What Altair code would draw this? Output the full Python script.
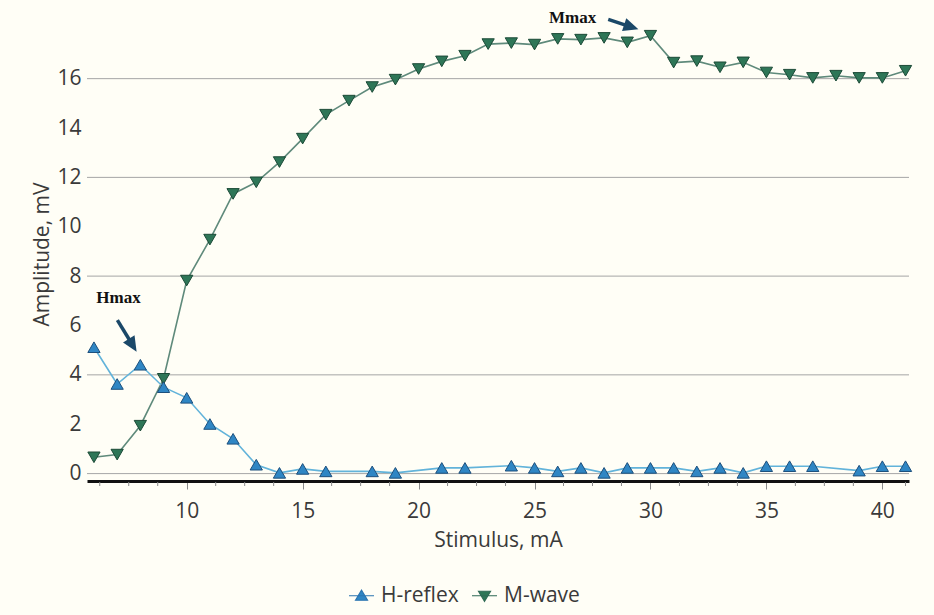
import altair as alt
import pandas as pd

# Stimulus intensities (mA) and response amplitudes (mV)
stim_h = [6, 7, 8, 9, 10, 11, 12, 13, 14, 15, 16, 18, 19, 21, 22, 24, 25, 26, 27,
          28, 29, 30, 31, 32, 33, 34, 35, 36, 37, 39, 40, 41]
h_reflex = [5.12, 3.63, 4.41, 3.50, 3.07, 2.01, 1.41, 0.36, 0.03, 0.19, 0.09, 0.09,
            0.03, 0.23, 0.23, 0.32, 0.23, 0.09, 0.23, 0.03, 0.23, 0.23, 0.23, 0.09,
            0.23, 0.03, 0.30, 0.30, 0.30, 0.12, 0.30, 0.30]

stim_m = [6, 7, 8, 9, 10, 11, 12, 13, 14, 15, 16, 17, 18, 19, 20, 21, 22, 23, 24,
          25, 26, 27, 28, 29, 30, 31, 32, 33, 34, 35, 36, 37, 38, 39, 40, 41]
m_wave = [0.66, 0.77, 1.94, 3.84, 7.82, 9.48, 11.33, 11.80, 12.62, 13.57, 14.54,
          15.11, 15.66, 15.96, 16.39, 16.70, 16.93, 17.40, 17.44, 17.38, 17.61,
          17.58, 17.65, 17.47, 17.74, 16.65, 16.71, 16.46, 16.66, 16.25, 16.16,
          16.03, 16.12, 16.03, 16.03, 16.32]

series_names = ["H-reflex", "M-wave"]

x_ticks = [10, 15, 20, 25, 30, 35, 40]
x_minor = [6.25, 7.5, 8.75, 11.25, 12.5, 13.75, 16.25, 17.5, 18.75, 21.25, 22.5,
           23.75, 26.25, 27.5, 28.75, 31.25, 32.5, 33.75, 36.25, 37.5, 38.75, 41.0]
y_ticks = [0, 2, 4, 6, 8, 10, 12, 14, 16]
y_grid = [0, 4, 8, 12, 16]

# Annotation labels and arrows (data units)
note_text = ["Hmax", "Mmax"]
note_x = [7.06, 26.64]
note_y = [7.12, 18.44]
arrow_x = [7.01, 28.18]
arrow_y = [6.22, 18.40]
arrow_x2 = [7.66, 29.15]
arrow_y2 = [5.22, 18.10]
head_x = [7.84, 29.48]
head_y = [4.94, 18.00]
head_angle = [148.5, 108.4]

W, H = 822, 469
FONT = "Open Sans"
TEXT_COLOR = "#3a3a3a"
FS = 21

h_df = pd.DataFrame({"stimulus": stim_h, "amplitude": h_reflex})
m_df = pd.DataFrame({"stimulus": stim_m, "amplitude": m_wave})
notes = pd.DataFrame({"text": note_text, "x": note_x, "y": note_y})
arrows = pd.DataFrame({"x": arrow_x, "y": arrow_y, "x2": arrow_x2, "y2": arrow_y2})
heads = pd.DataFrame({"x": head_x, "y": head_y, "angle": head_angle})
legend_df = pd.DataFrame({"series": series_names})

xs = alt.Scale(domain=[5.7, 41.15], nice=False, zero=False)
ys = alt.Scale(domain=[-0.3, 18.7], nice=False, zero=False)

x_axis = alt.Axis(
    values=x_ticks, title="Stimulus, mA", grid=False,
    domainColor="#111111", domainWidth=3,
    tickColor="#8a8a8a", tickSize=8, tickWidth=1,
    labelFont=FONT, labelFontSize=FS, labelColor=TEXT_COLOR, labelPadding=11,
    titleFont=FONT, titleFontSize=FS, titleColor=TEXT_COLOR,
    titleFontWeight="normal", titlePadding=8,
)
y_axis = alt.Axis(
    values=y_ticks, title="Amplitude, mV", grid=False, domain=False, ticks=False,
    labelFont=FONT, labelFontSize=FS, labelColor=TEXT_COLOR, labelPadding=6,
    titleFont=FONT, titleFontSize=FS, titleColor=TEXT_COLOR,
    titleFontWeight="normal", titleX=-45, titleY=242, titleBaseline="middle",
)

grid = alt.Chart(pd.DataFrame({"v": y_grid})).mark_rule(
    color="#a6a6a6", strokeWidth=1
).encode(y=alt.Y("v:Q", scale=ys, axis=y_axis))

minor = alt.Chart(pd.DataFrame({"t": x_minor})).mark_rule(
    color="#8a8a8a", strokeWidth=1
).encode(
    x=alt.X("t:Q", scale=xs, axis=x_axis),
    y=alt.value(H + 1), y2=alt.value(H + 5),
)


def series_layers(df, line_color, shape, fill, stroke):
    enc = dict(
        x=alt.X("stimulus:Q", scale=xs, axis=x_axis),
        y=alt.Y("amplitude:Q", scale=ys, axis=y_axis),
    )
    line = alt.Chart(df).mark_line(color=line_color, strokeWidth=1.6).encode(**enc)
    pts = alt.Chart(df).mark_point(
        shape=shape, filled=True, size=150, fill=fill, stroke=stroke,
        strokeWidth=1, opacity=1,
    ).encode(**enc)
    return line, pts


m_line, m_pts = series_layers(m_df, "#5f8a7b", "triangle-down", "#2e7657", "#1c4a37")
h_line, h_pts = series_layers(h_df, "#62b3da", "triangle-up", "#2f86c4", "#1d4f7c")

note_layer = alt.Chart(notes).mark_text(
    font="Liberation Serif", fontWeight="bold", fontSize=17, color="#111111",
    align="center", baseline="middle",
).encode(x=alt.X("x:Q", scale=xs), y=alt.Y("y:Q", scale=ys), text="text:N")

arrow_layer = alt.Chart(arrows).mark_rule(
    color="#1b4868", strokeWidth=3.5
).encode(
    x=alt.X("x:Q", scale=xs), y=alt.Y("y:Q", scale=ys),
    x2="x2:Q", y2="y2:Q",
)

head_layer = alt.Chart(heads).mark_point(
    shape="M0,0L-0.45,1L0.45,1Z", filled=True, size=900,
    fill="#1b4868", opacity=1, strokeWidth=0,
).encode(
    x=alt.X("x:Q", scale=xs), y=alt.Y("y:Q", scale=ys),
    angle=alt.Angle("angle:Q", scale=None),
)

# Legend: a line segment through each marker
sym_up = "M-1,0H1M-0.48,0.36L0,-0.44L0.48,0.36Z"
sym_down = "M-1,0H1M-0.48,-0.36L0,0.44L0.48,-0.36Z"
legend_layer = alt.Chart(legend_df).transform_filter("false").mark_point(
    filled=True, opacity=1, strokeWidth=1.2
).encode(
    shape=alt.Shape("series:N", scale=alt.Scale(domain=series_names, range=[sym_up, sym_down]),
                    legend=alt.Legend(
                        title=None, orient="none", direction="horizontal",
                        legendX=261, legendY=570, padding=0,
                        symbolSize=625, symbolStrokeWidth=1.2,
                        labelFont=FONT, labelFontSize=FS, labelColor=TEXT_COLOR,
                        labelOffset=6, columnPadding=10,
                    )),
    fill=alt.Fill("series:N", scale=alt.Scale(domain=series_names, range=["#2f86c4", "#2e7657"])),
    stroke=alt.Stroke("series:N", scale=alt.Scale(domain=series_names, range=["#2b74b0", "#2f6a55"])),
)

chart = alt.layer(
    grid, minor, m_line, h_line, m_pts, h_pts, arrow_layer, head_layer, note_layer, legend_layer
).properties(
    width=W, height=H,
    autosize=alt.AutoSizeParams(type="none"),
    padding={"left": 87, "top": 12, "right": 25, "bottom": 134},
    background="#fffef6",
).configure_view(stroke=None)

chart.save("out.html", embed_options={"renderer": "svg", "actions": False})
